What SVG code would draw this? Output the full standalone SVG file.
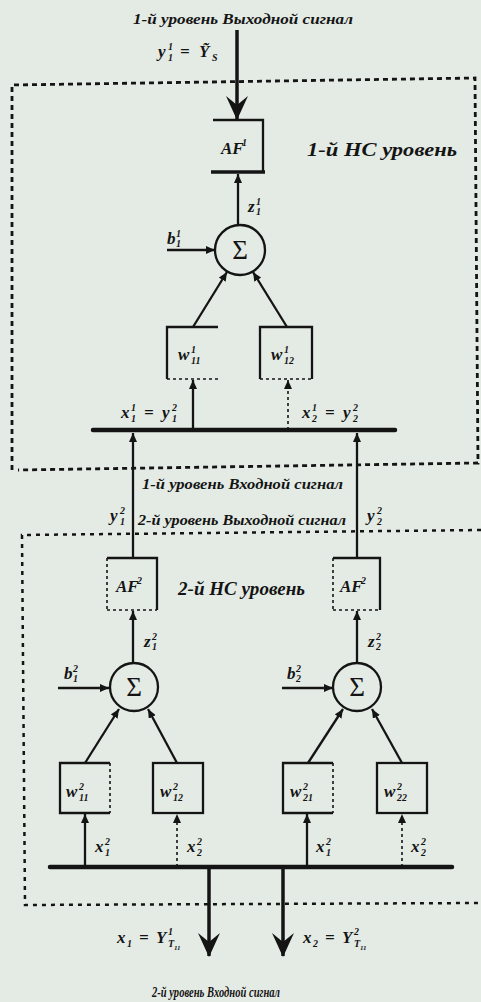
<svg xmlns="http://www.w3.org/2000/svg" width="481" height="1002" viewBox="0 0 481 1002">
<style>
text{font-family:"Liberation Serif","Times New Roman",serif;font-style:italic;font-weight:bold;fill:#141414}
.t{font-size:14px}
.m{font-size:17px}
.s{font-size:10px}
.big{font-size:19px}
.sig{font-size:27px;font-style:normal;font-weight:normal}
.ln{stroke:#141414;stroke-width:2.3;fill:none}
.th{stroke:#141414;stroke-width:3.5;fill:none}
.bus{stroke:#141414;stroke-width:4.5;fill:none;stroke-linecap:round}
.dl{stroke:#141414;stroke-width:1.6;fill:none;stroke-dasharray:3 3}
.frame{stroke:#141414;stroke-width:2.8;fill:none;stroke-dasharray:5 4}
.frame2{stroke:#141414;stroke-width:2.5;fill:none;stroke-dasharray:4 5}
.circ{stroke:#141414;stroke-width:2.3;fill:none}
</style>
<defs>
<marker id="a" viewBox="0 0 9 8" refX="9" refY="4" markerWidth="9" markerHeight="8" markerUnits="userSpaceOnUse" orient="auto"><path d="M0,0 L9,4 L0,8 Z" fill="#141414"/></marker>
<marker id="A" viewBox="0 0 24 22" refX="23" refY="11" markerWidth="24" markerHeight="22" markerUnits="userSpaceOnUse" orient="auto"><path d="M0,0 L24,11 L0,22 L9,11 Z" fill="#141414"/></marker>
</defs>
<rect width="481" height="1002" fill="#e4ebe5"/>

<g id="frames">
<path class="frame" d="M12,470 L12,85 L475,78 L478,463 L18,470"/>
<path class="frame2" d="M481,530 L22,535 L25,905 L481,903"/>
</g>

<g id="connectors">
<line class="th" x1="237" y1="30" x2="237" y2="119" marker-end="url(#A)"/>
<line class="ln" x1="238" y1="225" x2="238" y2="174" marker-end="url(#a)"/>
<line class="ln" x1="167" y1="250" x2="215" y2="250" marker-end="url(#a)"/>
<line class="ln" x1="193" y1="327" x2="227" y2="272" marker-end="url(#a)"/>
<line class="ln" x1="287" y1="327" x2="253" y2="272" marker-end="url(#a)"/>
<line class="ln" x1="193" y1="430" x2="193" y2="380" marker-end="url(#a)"/>
<line class="dl" x1="288" y1="430" x2="288" y2="380" marker-end="url(#a)"/>
<line class="bus" x1="93" y1="430" x2="395" y2="430"/>
<line class="ln" x1="133" y1="558" x2="133" y2="433" marker-end="url(#a)"/>
<line class="ln" x1="357" y1="558" x2="357" y2="433" marker-end="url(#a)"/>
<line class="ln" x1="133" y1="663" x2="133" y2="611" marker-end="url(#a)"/>
<line class="ln" x1="357" y1="663" x2="357" y2="611" marker-end="url(#a)"/>
<line class="ln" x1="58" y1="688" x2="109" y2="688" marker-end="url(#a)"/>
<line class="ln" x1="282" y1="688" x2="333" y2="688" marker-end="url(#a)"/>
<line class="ln" x1="85" y1="763" x2="119" y2="709" marker-end="url(#a)"/>
<line class="ln" x1="177" y1="763" x2="148" y2="709" marker-end="url(#a)"/>
<line class="ln" x1="308" y1="763" x2="343" y2="709" marker-end="url(#a)"/>
<line class="ln" x1="402" y1="763" x2="372" y2="709" marker-end="url(#a)"/>
<line class="ln" x1="85" y1="867" x2="85" y2="814" marker-end="url(#a)"/>
<line class="dl" x1="177" y1="867" x2="177" y2="814" marker-end="url(#a)"/>
<line class="ln" x1="307" y1="867" x2="307" y2="814" marker-end="url(#a)"/>
<line class="dl" x1="402" y1="867" x2="402" y2="814" marker-end="url(#a)"/>
<line class="bus" x1="50" y1="867" x2="452" y2="867"/>
<line class="th" x1="209" y1="867" x2="209" y2="956" marker-end="url(#A)"/>
<line class="th" x1="283" y1="867" x2="283" y2="956" marker-end="url(#A)"/>
</g>

<g id="labels">
<text class="t" x="133" y="24" textLength="220" lengthAdjust="spacingAndGlyphs">1-й уровень Выходной сигнал</text>
<text class="m" x="158" y="57">y<tspan class="s" x="168" y="50">1</tspan><tspan class="s" x="168" y="61">1</tspan><tspan x="180" y="57">=</tspan><tspan x="199" y="57">Ỹ</tspan><tspan class="s" x="212" y="61">S</tspan></text>
<text class="big" x="307" y="156" textLength="150" lengthAdjust="spacingAndGlyphs">1-й НС уровень</text>
<text class="m" x="248" y="212">z<tspan class="s" x="256" y="205">1</tspan><tspan class="s" x="256" y="215">1</tspan></text>
<text class="m" x="167" y="244">b<tspan class="s" x="176" y="237">1</tspan><tspan class="s" x="176" y="247">1</tspan></text>
<text class="m" x="121" y="418">x<tspan class="s" x="131" y="411">1</tspan><tspan class="s" x="131" y="422">1</tspan><tspan x="144" y="418">=</tspan><tspan x="162" y="418">y</tspan><tspan class="s" x="172" y="411">2</tspan><tspan class="s" x="172" y="422">1</tspan></text>
<text class="m" x="302" y="418">x<tspan class="s" x="312" y="411">1</tspan><tspan class="s" x="312" y="422">2</tspan><tspan x="325" y="418">=</tspan><tspan x="343" y="418">y</tspan><tspan class="s" x="353" y="411">2</tspan><tspan class="s" x="353" y="422">2</tspan></text>
<text class="t" x="142" y="489" textLength="201" lengthAdjust="spacingAndGlyphs">1-й уровень Входной сигнал</text>
<text class="m" x="110" y="521">y<tspan class="s" x="120" y="514">2</tspan><tspan class="s" x="120" y="525">1</tspan></text>
<text class="t" x="138" y="525" textLength="208" lengthAdjust="spacingAndGlyphs">2-й уровень Выходной сигнал</text>
<text class="m" x="367" y="521">y<tspan class="s" x="377" y="514">2</tspan><tspan class="s" x="377" y="525">2</tspan></text>
<text class="big" x="178" y="595" textLength="127" lengthAdjust="spacingAndGlyphs">2-й НС уровень</text>
<text class="m" x="144" y="647">z<tspan class="s" x="152" y="640">2</tspan><tspan class="s" x="152" y="650">1</tspan></text>
<text class="m" x="368" y="647">z<tspan class="s" x="376" y="640">2</tspan><tspan class="s" x="376" y="650">2</tspan></text>
<text class="m" x="64" y="679">b<tspan class="s" x="73" y="672">2</tspan><tspan class="s" x="73" y="682">1</tspan></text>
<text class="m" x="287" y="679">b<tspan class="s" x="296" y="672">2</tspan><tspan class="s" x="296" y="682">2</tspan></text>
<text class="m" x="95" y="852">x<tspan class="s" x="105" y="845">2</tspan><tspan class="s" x="105" y="856">1</tspan></text>
<text class="m" x="187" y="852">x<tspan class="s" x="197" y="845">2</tspan><tspan class="s" x="197" y="856">2</tspan></text>
<text class="m" x="316" y="852">x<tspan class="s" x="326" y="845">2</tspan><tspan class="s" x="326" y="856">1</tspan></text>
<text class="m" x="411" y="852">x<tspan class="s" x="421" y="845">2</tspan><tspan class="s" x="421" y="856">2</tspan></text>
<text class="m" x="117" y="943">x<tspan class="s" x="127" y="947">1</tspan><tspan x="139" y="943">=</tspan><tspan x="156" y="943">Y</tspan><tspan class="s" x="168" y="935">1</tspan><tspan class="s" x="168" y="947">T</tspan><tspan style="font-size:7px" x="174" y="950">11</tspan></text>
<text class="m" x="303" y="943">x<tspan class="s" x="313" y="947">2</tspan><tspan x="325" y="943">=</tspan><tspan x="342" y="943">Y</tspan><tspan class="s" x="354" y="935">2</tspan><tspan class="s" x="354" y="947">T</tspan><tspan style="font-size:7px" x="360" y="950">11</tspan></text>
<text class="t" x="152" y="997" textLength="128" lengthAdjust="spacingAndGlyphs">2-й уровень Входной сигнал</text>
</g>

<g id="AF1">
<path class="ln" d="M213,120 L263,120 L263,172"/>
<line class="th" x1="211" y1="172" x2="265" y2="172"/>
<text class="m" x="221" y="154">AF<tspan class="s" x="242" y="146">1</tspan></text>
</g>
<g id="sum1">
<circle class="circ" cx="240" cy="250" r="25"/>
<text class="sig" x="240" y="259" text-anchor="middle">Σ</text>
</g>
<g id="w1_11">
<path class="ln" d="M218,327 L167,327 L167,379"/>
<line class="dl" x1="167" y1="379" x2="218" y2="379"/>
<text class="m" x="178" y="360">w<tspan class="s" x="191" y="353">1</tspan><tspan class="s" x="191" y="364">11</tspan></text>
</g>
<g id="w1_12">
<path class="ln" d="M260,379 L260,327 L312,327 L312,379"/>
<line class="dl" x1="260" y1="379" x2="312" y2="379"/>
<text class="m" x="271" y="360">w<tspan class="s" x="284" y="353">1</tspan><tspan class="s" x="284" y="364">12</tspan></text>
</g>
<g id="AF2_1">
<path class="ln" d="M107,558 L157,558 L157,610"/>
<line class="dl" x1="107" y1="558" x2="107" y2="610"/>
<line class="dl" x1="107" y1="610" x2="157" y2="610"/>
<text class="m" x="116" y="592">AF<tspan class="s" x="137" y="584">2</tspan></text>
</g>
<g id="AF2_2">
<path class="ln" d="M333,558 L380,558 L380,610"/>
<line class="dl" x1="333" y1="558" x2="333" y2="610"/>
<line class="dl" x1="333" y1="610" x2="380" y2="610"/>
<text class="m" x="340" y="592">AF<tspan class="s" x="361" y="584">2</tspan></text>
</g>
<g id="sum2_1">
<circle class="circ" cx="134" cy="687" r="24"/>
<text class="sig" x="134" y="696" text-anchor="middle">Σ</text>
</g>
<g id="sum2_2">
<circle class="circ" cx="357" cy="687" r="24"/>
<text class="sig" x="357" y="696" text-anchor="middle">Σ</text>
</g>
<g id="w2_11">
<path class="ln" d="M110,763 L60,763 L60,813 L110,813"/>
<line class="dl" x1="110" y1="763" x2="110" y2="813"/>
<text class="m" x="66" y="797">w<tspan class="s" x="79" y="790">2</tspan><tspan class="s" x="79" y="801">11</tspan></text>
</g>
<g id="w2_12">
<rect class="ln" x="153" y="763" width="50" height="50"/>
<text class="m" x="160" y="797">w<tspan class="s" x="173" y="790">2</tspan><tspan class="s" x="173" y="801">12</tspan></text>
</g>
<g id="w2_21">
<path class="ln" d="M333,763 L283,763 L283,813 L333,813"/>
<line class="dl" x1="333" y1="763" x2="333" y2="813"/>
<text class="m" x="290" y="797">w<tspan class="s" x="303" y="790">2</tspan><tspan class="s" x="303" y="801">21</tspan></text>
</g>
<g id="w2_22">
<rect class="ln" x="377" y="763" width="50" height="50"/>
<text class="m" x="384" y="797">w<tspan class="s" x="397" y="790">2</tspan><tspan class="s" x="397" y="801">22</tspan></text>
</g>
</svg>
